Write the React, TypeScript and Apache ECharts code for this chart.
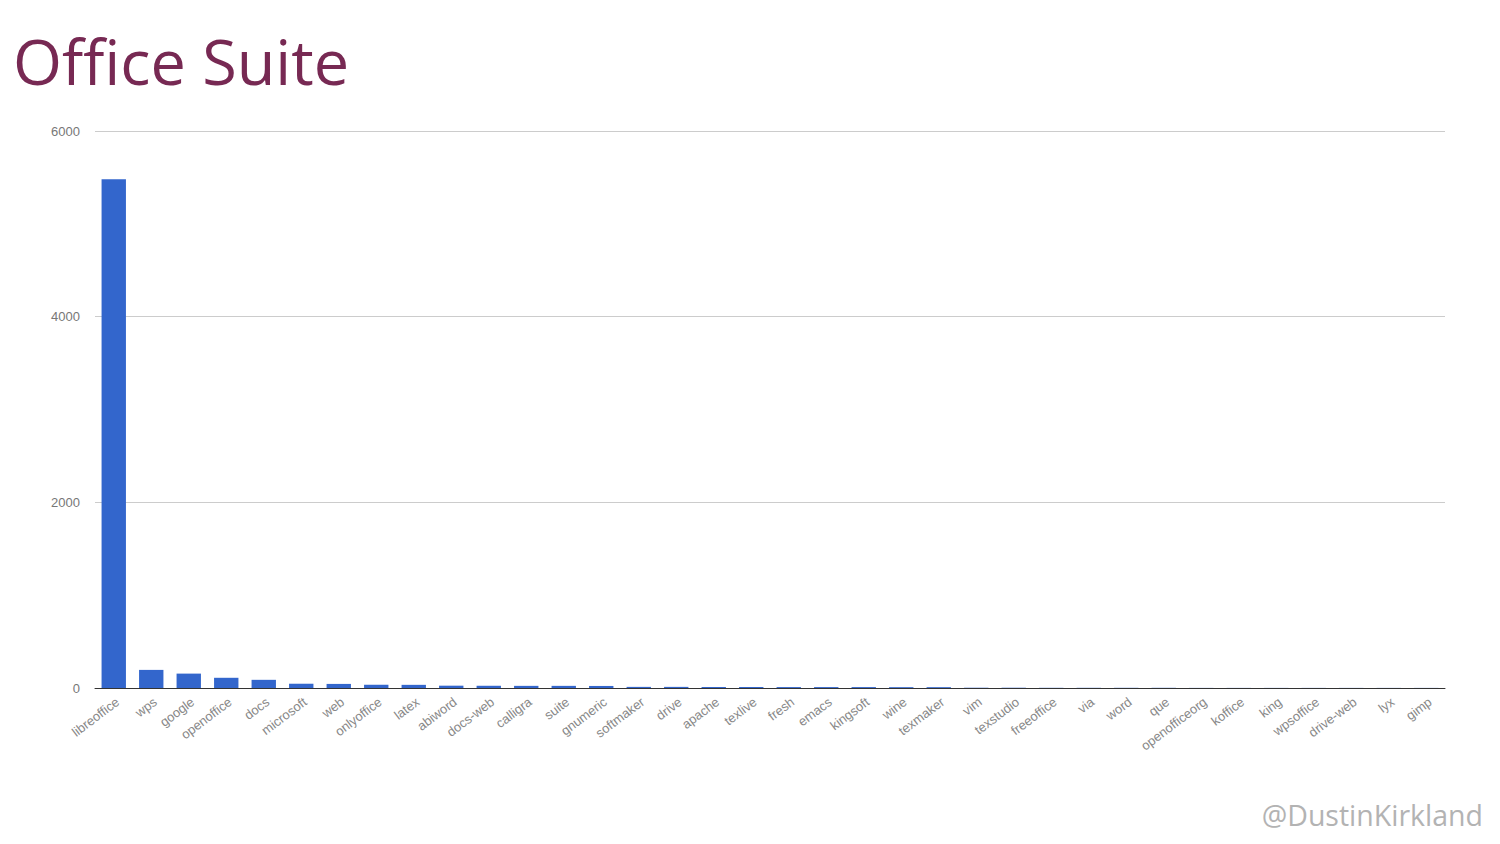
import React, { useEffect, useRef } from "react";
import * as echarts from "echarts";

const categories = [
  "libreoffice", "wps", "google", "openoffice", "docs", "microsoft", "web", "onlyoffice",
  "latex", "abiword", "docs-web", "calligra", "suite", "gnumeric", "softmaker", "drive",
  "apache", "texlive", "fresh", "emacs", "kingsoft", "wine", "texmaker", "vim",
  "texstudio", "freeoffice", "via", "word", "que", "openofficeorg", "koffice", "king",
  "wpsoffice", "drive-web", "lyx", "gimp",
];

const counts = [
  5480, 195, 155, 110, 88, 46, 44, 35,
  34, 25, 24, 23, 23, 22, 12, 12,
  11, 11, 10, 10, 10, 9, 9, 3,
  3, 2, 2, 2, 2, 1, 1, 1,
  1, 1, 1, 1,
];

const yTicks = [0, 2000, 4000, 6000];

const titleText = "Office Suite";
const watermark = "@DustinKirkland";

export default function App() {
  const ref = useRef<HTMLDivElement>(null);

  useEffect(() => {
    document.body.style.margin = "0";
    const chart = echarts.init(ref.current!, null, { renderer: "svg" });
    chart.setOption({
      animation: false,
      backgroundColor: "#ffffff",
      title: {
        text: titleText,
        left: 13,
        top: 29,
        padding: 0,
        textStyle: {
          fontFamily: "Open Sans",
          fontWeight: "normal",
          fontSize: 63,
          color: "#772953",
        },
      },
      graphic: [
        {
          type: "text",
          right: 17,
          top: 800,
          style: {
            text: watermark,
            fontFamily: "Open Sans",
            fontSize: 28.5,
            fill: "#b3b3b3",
          },
        },
      ],
      grid: {
        left: 95,
        right: 55,
        top: 131,
        height: 557,
        containLabel: false,
      },
      xAxis: {
        type: "category",
        data: categories,
        axisLine: { show: true, lineStyle: { color: "#333333", width: 1 } },
        axisTick: { show: false },
        axisLabel: {
          interval: 0,
          rotate: 37,
          margin: 7,
          verticalAlign: "top",
          fontFamily: "Liberation Sans",
          fontSize: 13,
          color: "#888888",
        },
      },
      yAxis: {
        type: "value",
        min: yTicks[0],
        max: yTicks[yTicks.length - 1],
        interval: 2000,
        axisLine: { show: false },
        axisTick: { show: false },
        splitLine: { lineStyle: { color: "#cccccc", width: 1 } },
        axisLabel: {
          margin: 15,
          fontFamily: "Liberation Sans",
          fontSize: 13,
          color: "#777777",
          formatter: (v: number) => String(v),
        },
      },
      series: [
        {
          type: "bar",
          data: counts,
          barCategoryGap: "35%",
          itemStyle: { color: "#3366cc" },
        },
      ],
    });
    return () => chart.dispose();
  }, []);

  return (
    <div
      ref={ref}
      style={{ position: "fixed", left: 0, top: 0, width: 1500, height: 844 }}
    />
  );
}
